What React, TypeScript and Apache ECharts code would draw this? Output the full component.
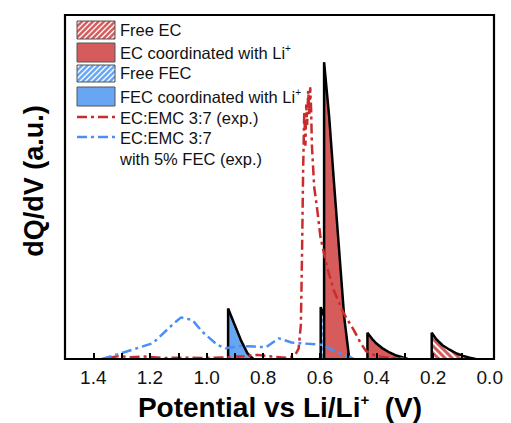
import React, { useEffect, useRef } from 'react';
import * as echarts from 'echarts';

const FONT = '"Liberation Sans", Arial, sans-serif';

// Simulated peaks: [potential (V), dQ/dV (a.u.)]
const freeFEC = [[0.597, 0], [0.597, 15.1], [0.577, 10.6], [0.553, 5.6], [0.53, 1.8], [0.518, 0.7], [0.508, 0]];
const fecCoordinated = [[0.924, 0], [0.924, 14.7], [0.903, 10.4], [0.879, 5.5], [0.856, 1.7], [0.844, 0.7], [0.835, 0]];
const ecCoordinatedMain = [[0.585, 0], [0.585, 86.3], [0.567, 70.3], [0.55, 51.2], [0.532, 31.7], [0.514, 12.2], [0.496, 0]];
const ecCoordinatedSmall = [[0.432, 0], [0.432, 7.6], [0.415, 5.8], [0.4, 4.5], [0.377, 3.0], [0.354, 1.9], [0.33, 1.0], [0.309, 0.5], [0.29, 0]];
const freeEC = [[0.205, 0], [0.205, 7.6], [0.188, 5.7], [0.167, 4.0], [0.142, 2.7], [0.117, 1.6], [0.094, 0.9], [0.071, 0.4], [0.05, 0]];

// Experimental curves
const expEC = [
  [1.345, 0.3], [1.31, 0.9], [1.27, 0.5], [1.22, 0.7], [1.15, 0.3], [1.08, 0.4], [1.0, 0.3],
  [0.93, 0.5], [0.87, 0.8], [0.82, 1.2], [0.77, 0.7], [0.72, 0.4], [0.69, 0.8], [0.675, 3],
  [0.667, 10], [0.663, 30], [0.659, 55], [0.655, 72], [0.651, 62], [0.648, 74], [0.645, 68],
  [0.641, 78], [0.637, 71], [0.634, 79], [0.631, 73], [0.628, 62], [0.62, 50], [0.609, 43.3],
  [0.598, 35.5], [0.575, 26.8], [0.551, 20], [0.516, 13.3], [0.48, 8.4], [0.455, 4.5],
  [0.437, 2.3], [0.4, 0.8], [0.35, 0.3], [0.3, 0.2],
];
const expFEC = [
  [1.37, 0], [1.3, 1.7], [1.19, 4.6], [1.115, 10.4], [1.09, 12.1], [1.05, 11.3], [1.015, 7.9],
  [0.962, 4.1], [0.932, 3.1], [0.88, 3.8], [0.83, 3.6], [0.79, 3.4], [0.745, 6.0], [0.7, 4.8],
  [0.673, 4.6], [0.59, 4.1], [0.54, 2.0], [0.497, 0.7], [0.48, 0],
];

const tickValues = [0.1, 0.2, 0.3, 0.4, 0.5, 0.6, 0.7, 0.8, 0.9, 1.0, 1.1, 1.2, 1.3, 1.4];
const labelValues = [0.0, 0.2, 0.4, 0.6, 0.8, 1.0, 1.2, 1.4];

const RED = '#d65c5c';
const BLUE = '#68a6f4';
const RED_LINE = '#cc2b2b';
const BLUE_LINE = '#4a8ef6';
const DASH = [10, 4, 3, 4];

const hatchDecal = {
  symbol: 'rect',
  symbolSize: 1,
  color: 'rgba(255,255,255,0.95)',
  dashArrayX: [1, 0],
  dashArrayY: [1.6, 3],
  rotation: Math.PI / 4,
};

function peakSeries(name: string, data: number[][], color: string, hatched: boolean, z: number) {
  return {
    type: 'line',
    name,
    data,
    symbol: 'none',
    showSymbol: false,
    lineStyle: { color: '#000', width: 2.5 },
    itemStyle: { color, decal: hatched ? hatchDecal : 'none' },
    areaStyle: { color, opacity: 1 },
    z,
    silent: true,
  };
}

function hatchLines(x0: number, y0: number, w: number, h: number, step: number) {
  const out: any[] = [];
  for (let c = x0 + y0 + step / 2; c < x0 + y0 + w + h; c += step) {
    const xa = Math.max(x0, c - (y0 + h));
    const xb = Math.min(x0 + w, c - y0);
    if (xb <= xa) continue;
    out.push({
      type: 'line',
      shape: { x1: xa, y1: c - xa, x2: xb, y2: c - xb },
      style: { stroke: 'rgba(255,255,255,0.95)', lineWidth: 1.5 },
      z: 101,
    });
  }
  return out;
}

function swatch(y: number, h: number, color: string, hatched: boolean) {
  const x = 77;
  const w = 38;
  const els: any[] = [
    { type: 'rect', shape: { x, y, width: w, height: h }, style: { fill: color, stroke: 'none' }, z: 100 },
  ];
  if (hatched) els.push(...hatchLines(x, y, w, h, 5.5));
  els.push({ type: 'rect', shape: { x, y, width: w, height: h }, style: { fill: 'none', stroke: '#555', lineWidth: 1 }, z: 102 });
  return els;
}

function legendText(y: number, text: string) {
  return {
    type: 'text',
    x: 120,
    y,
    z: 100,
    style: {
      text,
      fill: '#111',
      align: 'left',
      verticalAlign: 'middle',
      rich: {
        n: { fontSize: 16.5, fontFamily: FONT, fill: '#111' },
        s: { fontSize: 10, fontFamily: FONT, fill: '#111', padding: [0, 0, 10, 0] },
      },
    },
  };
}

export default function App() {
  const ref = useRef<HTMLDivElement>(null);
  useEffect(() => {
    const chart = echarts.init(ref.current!, null, { renderer: 'svg' });
    const option: any = {
      animation: false,
      backgroundColor: '#fff',
      grid: { left: 65, right: 17, top: 15, bottom: 64, show: true, borderColor: '#000', borderWidth: 2.2, containLabel: false },
      xAxis: {
        type: 'value',
        inverse: true,
        min: -0.015,
        max: 1.5,
        z: 6,
        axisLine: { show: true, lineStyle: { color: '#000', width: 2.2 } },
        axisTick: { show: true, inside: true, length: 6, customValues: tickValues, lineStyle: { color: '#000', width: 2 } },
        axisLabel: {
          show: true,
          customValues: labelValues,
          formatter: (v: number) => v.toFixed(1),
          fontSize: 19,
          fontFamily: FONT,
          color: '#111',
          margin: 9,
        },
        splitLine: { show: false },
      },
      yAxis: {
        type: 'value',
        min: 0,
        max: 100,
        axisLine: { show: false },
        axisTick: { show: false },
        axisLabel: { show: false },
        splitLine: { show: false },
      },
      series: [
        peakSeries('Free FEC', freeFEC, BLUE, true, 2),
        peakSeries('FEC coordinated with Li+', fecCoordinated, BLUE, false, 2),
        peakSeries('EC coordinated with Li+', ecCoordinatedMain, RED, false, 3),
        peakSeries('EC coordinated with Li+ (2)', ecCoordinatedSmall, RED, false, 3),
        peakSeries('Free EC', freeEC, RED, true, 3),
        {
          type: 'line', name: 'EC:EMC 3:7 (exp.)', data: expEC, symbol: 'none', z: 4,
          lineStyle: { color: RED_LINE, width: 2.5, type: DASH },
        },
        {
          type: 'line', name: 'EC:EMC 3:7 with 5% FEC (exp.)', data: expFEC, symbol: 'none', z: 4,
          lineStyle: { color: BLUE_LINE, width: 2.5, type: DASH },
        },
      ],
      graphic: [
        ...swatch(21, 18, RED, true),
        ...swatch(43, 19, RED, false),
        ...swatch(65, 17, BLUE, true),
        ...swatch(87, 19, BLUE, false),
        { type: 'line', shape: { x1: 77, y1: 117, x2: 115, y2: 117 }, style: { stroke: RED_LINE, lineWidth: 2.5, lineDash: DASH }, z: 100 },
        { type: 'line', shape: { x1: 77, y1: 137, x2: 115, y2: 137 }, style: { stroke: BLUE_LINE, lineWidth: 2.5, lineDash: DASH }, z: 100 },
        legendText(30, '{n|Free EC}'),
        legendText(53, '{n|EC coordinated with Li}{s|+}'),
        legendText(73, '{n|Free FEC}'),
        legendText(97, '{n|FEC coordinated with Li}{s|+}'),
        legendText(118, '{n|EC:EMC 3:7 (exp.)}'),
        legendText(138, '{n|EC:EMC 3:7}'),
        legendText(159, '{n|with 5% FEC (exp.)}'),
        {
          type: 'text', x: 280, y: 407, z: 100,
          style: {
            text: '{a|Potential vs Li/Li}{b|+}{a|  (V)}',
            fill: '#000',
            align: 'center',
            verticalAlign: 'middle',
            rich: {
              a: { fontSize: 28, fontWeight: 'bold', fontFamily: FONT, fill: '#000' },
              b: { fontSize: 15, fontWeight: 'bold', fontFamily: FONT, fill: '#000', padding: [0, 0, 15, 0] },
            },
          },
        },
        {
          type: 'text', x: 34, y: 181, rotation: Math.PI / 2, z: 100,
          style: {
            text: 'dQ/dV (a.u.)',
            fill: '#000',
            font: `bold 27px ${FONT}`,
            align: 'center',
            verticalAlign: 'middle',
          },
        },
      ],
    };
    chart.setOption(option);
    return () => chart.dispose();
  }, []);
  return <div ref={ref} style={{ position: 'fixed', left: 0, top: 0, width: 511, height: 423 }} />;
}
